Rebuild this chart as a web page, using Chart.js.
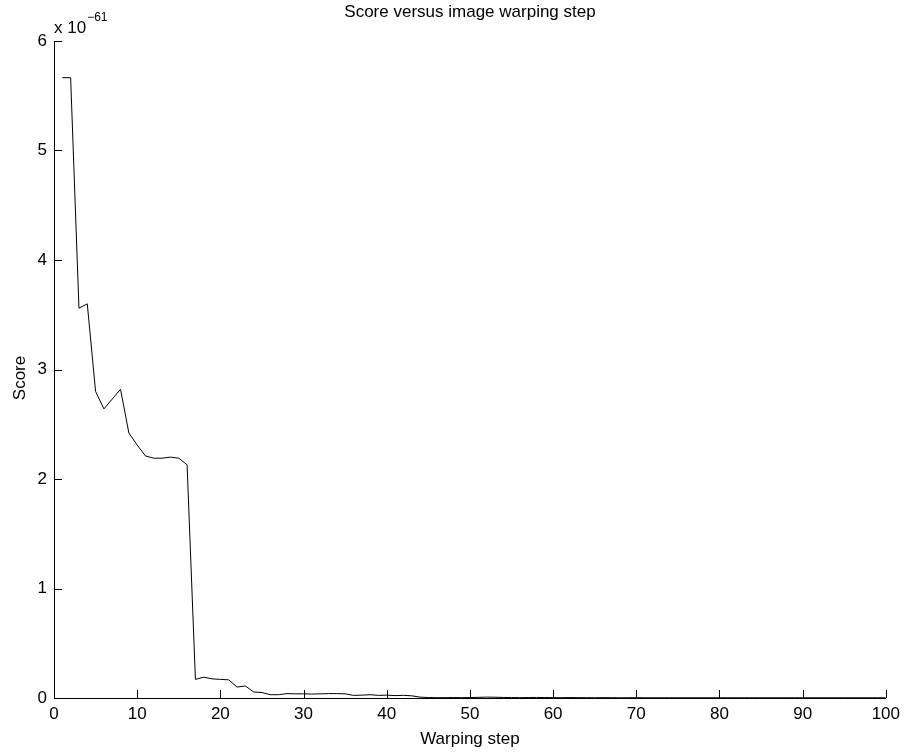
<!DOCTYPE html>
<html>
<head>
<meta charset="utf-8">
<script src="https://cdn.jsdelivr.net/npm/chart.js@4.4.1/dist/chart.umd.min.js"></script>
<style>
  html, body { margin: 0; padding: 0; background: #fff; }
  #wrap { width: 906px; height: 754px; position: relative; }
</style>
</head>
<body>
<div id="wrap"><canvas id="scoreChart" width="906" height="754"></canvas></div>
<script>
// scores are in units of 1e-61 (axis shows "x 10^-61")
const steps = [];
for (let i = 1; i <= 100; i++) steps.push(i);

const scores = [
    5.665, 5.665, 3.56, 3.60, 2.80, 2.64, 2.73, 2.82, 2.42, 2.31,
    2.21, 2.19, 2.19, 2.20, 2.19, 2.13, 0.17, 0.19, 0.175, 0.17,
    0.166, 0.10, 0.11, 0.055, 0.05, 0.03, 0.03, 0.04, 0.038, 0.038,
    0.036, 0.038, 0.04, 0.04, 0.038, 0.024, 0.026, 0.03, 0.024, 0.026,
    0.022, 0.024, 0.02, 0.008, 0.004, 0.003, 0.003, 0.004, 0.003, 0.004,
    0.006, 0.008, 0.007, 0.005, 0.004, 0.003, 0.004, 0.005, 0.004, 0.003,
    0.003, 0.004, 0.003, 0.003, 0.002, 0.003, 0.003, 0.002, 0.002, 0.003,
    0.002, 0.002, 0.002, 0.002, 0.002, 0.002, 0.002, 0.002, 0.002, 0.002,
    0.002, 0.002, 0.002, 0.002, 0.002, 0.002, 0.002, 0.002, 0.002, 0.002,
    0.002, 0.002, 0.002, 0.002, 0.002, 0.002, 0.002, 0.002, 0.002, 0.002
];

const xTicks = [0, 10, 20, 30, 40, 50, 60, 70, 80, 90, 100];
const yTicks = [0, 1, 2, 3, 4, 5, 6];

const chartTitle = "Score versus image warping step";
const xLabel = "Warping step";
const yLabel = "Score";
const yExponent = "-61";

const FONT = "'Liberation Sans', Arial, Helvetica, sans-serif";

// matlab style: inward tick marks, title and axis labels
const matlabAxes = {
    id: "matlabAxes",
    afterDraw(chart) {
        const { ctx, chartArea, scales } = chart;
        const xs = scales.x, ys = scales.y;
        const len = 8;

        ctx.save();
        ctx.strokeStyle = "#000";
        ctx.lineWidth = 1;
        ctx.beginPath();
        xTicks.forEach(v => {
            const px = Math.round(xs.getPixelForValue(v)) + 0.5;
            ctx.moveTo(px, chartArea.bottom);
            ctx.lineTo(px, chartArea.bottom - len);
        });
        yTicks.forEach(v => {
            const py = Math.round(ys.getPixelForValue(v)) + 0.5;
            ctx.moveTo(chartArea.left, py);
            ctx.lineTo(chartArea.left + len, py);
        });
        ctx.stroke();

        ctx.fillStyle = "#000";
        ctx.font = "17px " + FONT;
        ctx.textAlign = "center";
        ctx.textBaseline = "alphabetic";
        ctx.fillText(chartTitle, 470, 17);
        ctx.fillText(xLabel, (chartArea.left + chartArea.right) / 2, 744);

        ctx.save();
        ctx.translate(25, 378);
        ctx.rotate(-Math.PI / 2);
        ctx.fillText(yLabel, 0, 0);
        ctx.restore();

        // exponent label
        ctx.textAlign = "left";
        ctx.font = "17px " + FONT;
        ctx.fillText("x 10", 54, 33);
        const w = ctx.measureText("x 10").width;
        ctx.font = "12px " + FONT;
        ctx.fillText(yExponent.replace("-", "\u2212"), 54 + w + 1, 21);
        ctx.restore();
    }
};

new Chart(document.getElementById("scoreChart"), {
    type: "line",
    data: {
        datasets: [{
            data: steps.map((s, i) => ({ x: s, y: scores[i] })),
            borderColor: "#000",
            borderWidth: 1,
            pointRadius: 0,
            tension: 0,
            fill: false
        }]
    },
    options: {
        responsive: false,
        animation: false,
        devicePixelRatio: 1,
        layout: {
            padding: { left: 0, right: 20, top: 41, bottom: 0 }
        },
        plugins: {
            legend: { display: false },
            tooltip: { enabled: false }
        },
        scales: {
            x: {
                type: "linear",
                min: 0,
                max: 100,
                afterBuildTicks: scale => {
                    scale.ticks = xTicks.map(v => ({ value: v }));
                },
                afterFit: scale => { scale.height = 56; },
                ticks: {
                    color: "#000",
                    font: { size: 17, family: FONT },
                    padding: 6,
                    maxRotation: 0
                },
                grid: { display: false, drawTicks: false },
                border: { display: true, color: "#000", width: 1 }
            },
            y: {
                type: "linear",
                min: 0,
                max: 6,
                afterBuildTicks: scale => {
                    scale.ticks = yTicks.map(v => ({ value: v }));
                },
                afterFit: scale => { scale.width = 54; },
                ticks: {
                    color: "#000",
                    font: { size: 17, family: FONT },
                    padding: 7
                },
                grid: { display: false, drawTicks: false },
                border: { display: true, color: "#000", width: 1 }
            }
        }
    },
    plugins: [matlabAxes]
});
</script>
</body>
</html>
